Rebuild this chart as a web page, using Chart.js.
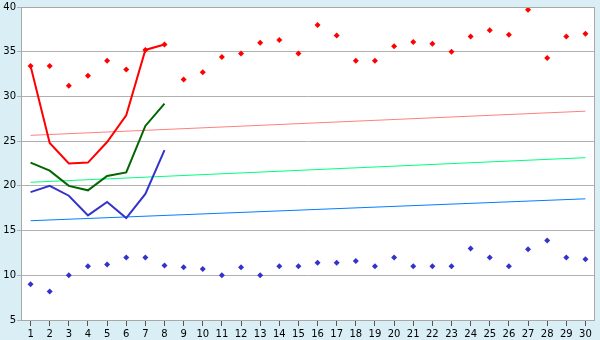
<!DOCTYPE html>
<html>
<head>
<meta charset="utf-8">
<script src="https://cdn.jsdelivr.net/npm/chart.js@4/dist/chart.umd.min.js"></script>
<style>
  html, body { margin: 0; padding: 0; background: #d9eff5; }
  #wrap { width: 600px; height: 340px; }
</style>
</head>
<body>
<div id="wrap"><canvas id="tempChart" width="600" height="340"></canvas></div>
<script>
// días del mes
const days = [];
for (let i = 1; i <= 30; i++) days.push(String(i));

// máximas y mínimas diarias (puntos)
const maxTemps = [33.4, 33.4, 31.2, 32.3, 34.0, 33.0, 35.2, 35.8, 31.9, 32.7,
                  34.4, 34.8, 36.0, 36.3, 34.8, 38.0, 36.8, 34.0, 34.0, 35.6,
                  36.1, 35.9, 35.0, 36.7, 37.4, 36.9, 39.7, 34.3, 36.7, 37.0];
const minTemps = [9.0, 8.2, 10.0, 11.0, 11.2, 12.0, 12.0, 11.1, 10.9, 10.7,
                  10.0, 10.9, 10.0, 11.0, 11.0, 11.4, 11.4, 11.6, 11.0, 12.0,
                  11.0, 11.0, 11.0, 13.0, 12.0, 11.0, 12.9, 13.9, 12.0, 11.8];

// curvas de los primeros 8 días
const redLine = [33.4, 24.8, 22.5, 22.6, 24.9, 27.9, 35.2, 35.8];
const greenLine = [22.6, 21.7, 20.0, 19.5, 21.1, 21.5, 26.7, 29.2];
const blueLine = [19.3, 20.0, 18.9, 16.7, 18.2, 16.4, 19.1, 24.0];

// tendencias (inicio día 1, fin día 30)
const redTrend = [25.65, 28.35];
const greenTrend = [20.4, 23.15];
const blueTrend = [16.1, 18.55];

const yTicks = [5, 10, 15, 20, 25, 30, 35, 40];

function trendData(ends) {
    const arr = Array(days.length).fill(null);
    arr[0] = ends[0];
    arr[days.length - 1] = ends[1];
    return arr;
}

const bgPlugin = {
    id: 'bgPlugin',
    beforeDraw(chart) {
        const ctx = chart.ctx;
        const a = chart.chartArea;
        ctx.save();
        ctx.fillStyle = '#d9eff5';
        ctx.fillRect(0, 0, chart.width, chart.height);
        ctx.fillStyle = '#ffffff';
        ctx.fillRect(a.left, a.top, a.right - a.left, a.bottom - a.top);
        ctx.restore();
    },
    afterDatasetsDraw(chart) {
        const ctx = chart.ctx;
        const a = chart.chartArea;
        ctx.save();
        ctx.strokeStyle = '#a8a8a8';
        ctx.lineWidth = 1;
        ctx.strokeRect(a.left + 0.5, a.top + 0.5, a.right - a.left - 1, a.bottom - a.top);
        ctx.restore();
    }
};

const ctx = document.getElementById('tempChart').getContext('2d');
new Chart(ctx, {
    type: 'line',
    data: {
        labels: days,
        datasets: [
            { data: maxTemps, showLine: false, pointStyle: 'rectRot', pointRadius: 3,
              backgroundColor: '#ff0000', borderColor: '#ff0000', pointBorderWidth: 0, order: 1 },
            { data: minTemps, showLine: false, pointStyle: 'rectRot', pointRadius: 3,
              backgroundColor: '#3333cc', borderColor: '#3333cc', pointBorderWidth: 0, order: 1 },
            { data: redLine, borderColor: '#ff0000', borderWidth: 2, pointRadius: 0, tension: 0, order: 2 },
            { data: greenLine, borderColor: '#006600', borderWidth: 2, pointRadius: 0, tension: 0, order: 2 },
            { data: blueLine, borderColor: '#3333cc', borderWidth: 2, pointRadius: 0, tension: 0, order: 2 },
            { data: trendData(redTrend), borderColor: '#ff8080', borderWidth: 1, pointRadius: 0, spanGaps: true, order: 3 },
            { data: trendData(greenTrend), borderColor: '#00ff80', borderWidth: 1, pointRadius: 0, spanGaps: true, order: 3 },
            { data: trendData(blueTrend), borderColor: '#0080ff', borderWidth: 1, pointRadius: 0, spanGaps: true, order: 3 }
        ]
    },
    options: {
        responsive: false,
        animation: false,
        layout: { padding: { top: 5, right: 5, left: 0, bottom: 0 } },
        plugins: {
            legend: { display: false },
            tooltip: { enabled: false }
        },
        scales: {
            x: {
                offset: true,
                grid: { offset: false, drawOnChartArea: false, drawTicks: true, tickLength: 6, color: '#555555' },
                border: { display: false },
                ticks: { color: '#000000', font: { family: 'DejaVu Sans', size: 10 }, padding: 2, maxRotation: 0, autoSkip: false },
                afterFit(scale) { scale.height = 20; }
            },
            y: {
                min: 5,
                max: 40,
                afterBuildTicks(scale) { scale.ticks = yTicks.map(v => ({ value: v })); },
                grid: { color: '#b0b0b0', drawTicks: true, tickLength: 4 },
                border: { display: true, color: '#a8a8a8' },
                ticks: { color: '#000000', font: { family: 'DejaVu Sans', size: 10 }, padding: 1 },
                afterFit(scale) { scale.width = 21; }
            }
        }
    },
    plugins: [bgPlugin]
});
</script>
</body>
</html>
